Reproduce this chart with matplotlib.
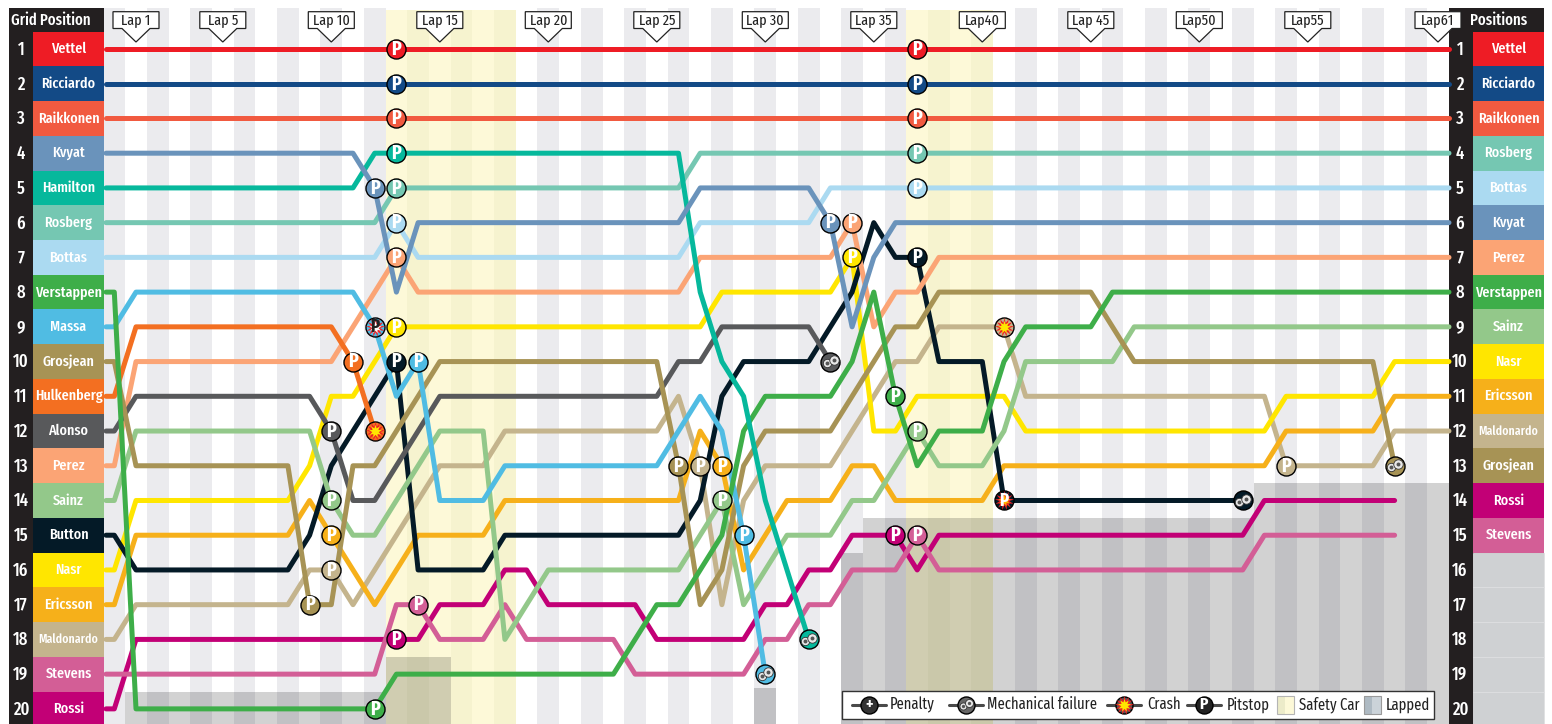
import matplotlib
matplotlib.use("Agg")
import matplotlib.pyplot as plt
from matplotlib.patches import Rectangle, Polygon
import logging
logging.getLogger('matplotlib.font_manager').setLevel(logging.ERROR)

NARROW = ['Fira Sans Extra Condensed', 'Fira Sans Condensed', 'Asap Condensed', 'Barlow Condensed', 'Roboto', 'DejaVu Sans']
plt.rcParams['font.family'] = NARROW

# ---- data: (lap, position) change points per driver ----
vettel = [(0, 1), (61, 1)]
ricciardo = [(0, 2), (61, 2)]
raikkonen = [(0, 3), (61, 3)]
kvyat = [(0, 4), (11, 4), (12, 5), (13, 8), (14, 6), (26, 6), (27, 5), (32, 5), (33, 6), (34, 9), (35, 7), (36, 6), (61, 6)]
hamilton = [(0, 5), (11, 5), (12, 4), (26, 4), (27, 8), (28, 10), (29, 11), (30, 14), (31, 16), (32, 18)]
rosberg = [(0, 6), (12, 6), (13, 5), (26, 5), (27, 4), (61, 4)]
bottas = [(0, 7), (12, 7), (13, 6), (14, 7), (26, 7), (27, 6), (32, 6), (33, 5), (61, 5)]
verstappen = [(0, 8), (1, 20), (12, 20), (13, 19), (23, 19), (24, 18), (25, 17), (26, 17), (27, 16), (28, 15), (29, 12), (30, 11), (33, 11), (34, 10), (35, 8), (36, 11), (37, 13), (38, 12), (40, 12), (41, 10), (42, 9), (45, 9), (46, 8), (61, 8)]
massa = [(0, 9), (1, 8), (11, 8), (12, 9), (13, 11), (14, 10), (15, 14), (17, 14), (18, 13), (25, 13), (26, 12), (27, 11), (28, 12), (29, 15), (30, 19)]
grosjean = [(0, 10), (1, 13), (8, 13), (9, 17), (10, 17), (11, 13), (12, 13), (13, 12), (14, 11), (15, 10), (25, 10), (26, 13), (27, 17), (28, 16), (29, 13), (30, 12), (33, 12), (34, 11), (35, 10), (36, 9), (37, 9), (38, 8), (45, 8), (46, 9), (47, 10), (58, 10), (59, 13)]
hulkenberg = [(0, 11), (1, 9), (10, 9), (11, 10), (12, 12)]
alonso = [(0, 12), (1, 11), (9, 11), (10, 12), (11, 14), (12, 14), (13, 13), (14, 12), (15, 11), (25, 11), (26, 10), (27, 10), (28, 9), (32, 9), (33, 10)]
perez = [(0, 13), (1, 10), (10, 10), (11, 9), (12, 8), (13, 7), (14, 8), (26, 8), (27, 7), (33, 7), (34, 6), (35, 9), (36, 8), (37, 8), (38, 7), (61, 7)]
sainz = [(0, 14), (1, 12), (9, 12), (10, 14), (11, 15), (12, 15), (13, 14), (14, 13), (15, 12), (17, 12), (18, 18), (19, 17), (20, 16), (26, 16), (27, 15), (28, 14), (29, 17), (30, 16), (31, 15), (33, 15), (34, 14), (35, 14), (36, 13), (37, 12), (38, 13), (40, 13), (41, 12), (42, 10), (46, 10), (47, 9), (61, 9)]
button = [(0, 15), (1, 16), (8, 16), (9, 15), (10, 13), (11, 12), (12, 11), (13, 10), (14, 16), (17, 16), (18, 15), (26, 15), (27, 14), (28, 11), (29, 10), (32, 10), (33, 9), (34, 8), (35, 6), (36, 7), (37, 7), (38, 10), (40, 10), (41, 14), (52, 14)]
nasr = [(0, 16), (1, 14), (8, 14), (9, 13), (10, 11), (11, 11), (12, 10), (13, 9), (27, 9), (28, 8), (33, 8), (34, 7), (35, 12), (36, 12), (37, 11), (41, 11), (42, 12), (53, 12), (54, 11), (58, 11), (59, 10), (61, 10)]
ericsson = [(0, 17), (1, 15), (8, 15), (9, 14), (10, 15), (11, 16), (12, 17), (13, 16), (14, 15), (17, 15), (18, 14), (26, 14), (27, 12), (28, 13), (29, 16), (30, 15), (31, 14), (33, 14), (34, 13), (35, 13), (36, 14), (40, 14), (41, 13), (53, 13), (54, 12), (58, 12), (59, 11), (61, 11)]
maldonado = [(0, 18), (1, 17), (8, 17), (9, 16), (10, 16), (11, 17), (12, 16), (13, 15), (14, 14), (15, 13), (17, 13), (18, 12), (25, 12), (26, 11), (27, 13), (28, 17), (29, 14), (30, 13), (33, 13), (34, 12), (35, 11), (36, 10), (37, 10), (38, 9), (41, 9), (42, 11), (53, 11), (54, 13), (58, 13), (59, 12), (61, 12)]
stevens = [(0, 19), (12, 19), (13, 17), (14, 17), (15, 18), (17, 18), (18, 17), (19, 18), (23, 18), (24, 19), (29, 19), (30, 18), (31, 18), (32, 17), (33, 17), (34, 16), (36, 16), (37, 15), (38, 16), (52, 16), (53, 15), (59, 15)]
rossi = [(0, 20), (1, 18), (14, 18), (15, 17), (17, 17), (18, 16), (19, 16), (20, 17), (24, 17), (25, 18), (29, 18), (30, 17), (31, 17), (32, 16), (33, 16), (34, 15), (36, 15), (37, 16), (38, 15), (52, 15), (53, 14), (59, 14)]

grid_names = ['Vettel', 'Ricciardo', 'Raikkonen', 'Kvyat', 'Hamilton', 'Rosberg', 'Bottas', 'Verstappen', 'Massa', 'Grosjean',
              'Hulkenberg', 'Alonso', 'Perez', 'Sainz', 'Button', 'Nasr', 'Ericsson', 'Maldonardo', 'Stevens', 'Rossi']
final_names = ['Vettel', 'Ricciardo', 'Raikkonen', 'Rosberg', 'Bottas', 'Kvyat', 'Perez', 'Verstappen', 'Sainz', 'Nasr',
               'Ericsson', 'Maldonardo', 'Grosjean', 'Rossi', 'Stevens']
flag_laps = [1, 5, 10, 15, 20, 25, 30, 35, 40, 45, 50, 55, 61]
flag_labels = ['Lap 1', 'Lap 5', 'Lap 10', 'Lap 15', 'Lap 20', 'Lap 25', 'Lap 30', 'Lap 35', 'Lap40', 'Lap 45', 'Lap50', 'Lap55', 'Lap61']
safety_car_laps = [13, 14, 15, 16, 17, 18, 37, 38, 39, 40]
# (first lap, last lap, first lapped position boundary in row units)
lapped_from = [(1, 12, 19.5), (13, 15, 18.5), (30, 30, 19.4), (34, 34, 15.5), (35, 52, 14.5), (53, 61, 13.5)]
pit_stops = [('Vettel', 13, 1), ('Ricciardo', 13, 2), ('Raikkonen', 13, 3), ('Hamilton', 13, 4), ('Kvyat', 12, 5), ('Rosberg', 13, 5),
             ('Bottas', 13, 6), ('Perez', 13, 7), ('Nasr', 13, 9), ('Hulkenberg', 11, 10), ('Button', 13, 10), ('Massa', 14, 10),
             ('Alonso', 10, 12), ('Sainz', 10, 14), ('Ericsson', 10, 15), ('Maldonardo', 10, 16), ('Grosjean', 9, 17), ('Stevens', 14, 17),
             ('Rossi', 13, 18), ('Verstappen', 12, 20), ('Grosjean', 26, 13), ('Maldonardo', 27, 13), ('Ericsson', 28, 13), ('Sainz', 28, 14),
             ('Massa', 29, 15), ('Kvyat', 33, 6), ('Perez', 34, 6), ('Nasr', 34, 7), ('Verstappen', 36, 11), ('Rossi', 36, 15), ('Stevens', 37, 15),
             ('Vettel', 37, 1), ('Ricciardo', 37, 2), ('Raikkonen', 37, 3), ('Rosberg', 37, 4), ('Bottas', 37, 5), ('Button', 37, 7),
             ('Sainz', 37, 12), ('Maldonardo', 54, 13)]
crashes = [('Hulkenberg', 12, 12), ('Maldonardo', 41, 9)]
pit_crashes = [('Massa', 12, 9), ('Button', 41, 14)]
failures = [('Alonso', 33, 10), ('Massa', 30, 19), ('Hamilton', 32, 18), ('Button', 52, 14), ('Grosjean', 59, 13)]

colors = dict(Vettel='#ee1c25', Ricciardo='#134a86', Raikkonen='#f15a40', Kvyat='#6a93bb', Hamilton='#06b89c', Rosberg='#75c7b2',
              Bottas='#abdaf1', Verstappen='#3eae49', Massa='#50bce3', Grosjean='#a79355', Hulkenberg='#f36f21', Alonso='#58595b',
              Perez='#fba475', Sainz='#93c88a', Button='#041a27', Nasr='#ffe600', Ericsson='#f6b01a', Maldonardo='#c4b48d',
              Stevens='#d35e96', Rossi='#c20076')
series = dict(Vettel=vettel, Ricciardo=ricciardo, Raikkonen=raikkonen, Kvyat=kvyat, Hamilton=hamilton, Rosberg=rosberg, Bottas=bottas,
              Verstappen=verstappen, Massa=massa, Grosjean=grosjean, Hulkenberg=hulkenberg, Alonso=alonso, Perez=perez, Sainz=sainz,
              Button=button, Nasr=nasr, Ericsson=ericsson, Maldonardo=maldonado, Stevens=stevens, Rossi=rossi)

# ---- layout ----
W, H = 1552, 724
LAP1_X, LAP_W = 136.0, 21.7
ROW1_Y, ROW_H = 49.0, 34.73
DARK = '#231f20'

def px(x):
    return 1 + (x - LAP1_X) / LAP_W

def py(y):
    return 1 + (y - ROW1_Y) / ROW_H

fig = plt.figure(figsize=(W / 100, H / 100), dpi=100, facecolor='white')
ax = fig.add_axes([0, 0, 1, 1])
ax.set_xlim(px(0), px(W))
ax.set_ylim(py(H), py(0))
ax.axis('off')

def box(x0, y0, x1, y1, **kw):
    r = Rectangle((px(x0), py(y0)), px(x1) - px(x0), py(y1) - py(y0), linewidth=kw.pop('linewidth', 0), **kw)
    ax.add_patch(r)
    return r

# stripes
for lap in range(0, 62):
    yellow = lap in safety_car_laps
    even = lap % 2 == 0
    top = py(8)
    if yellow:
        ax.add_patch(Rectangle((lap - .5, py(10)), 1, py(H) - py(10), lw=0, fc='#f6f3cf' if even else '#fdf9d8', zorder=1))
    elif even:
        ax.add_patch(Rectangle((lap - .5, top), 1, py(H) - top, lw=0, fc='#ebebee', zorder=1))

# lapped blocks
for first, last, row in lapped_from:
    ax.add_patch(Rectangle((first - .5, row), last - first + 1, py(H) - row, lw=0, fc='black', alpha=0.175, zorder=1.5))

# panels
box(9, 8, 104, H, fc=DARK, zorder=7)
box(1449, 8, 1544, H, fc=DARK, zorder=2)
ax.barh(range(1, 21), px(104) - px(33), left=px(33), height=1.0,
        color=[colors[n] for n in grid_names], linewidth=0, zorder=7.5)
ax.barh(range(1, 16), px(1544) - px(1473), left=px(1473), height=1.0,
        color=[colors[n] for n in final_names], linewidth=0, zorder=2.5)
ax.barh(range(16, 21), px(1544) - px(1473), left=px(1473), height=1.0,
        color='#cfd1d3', edgecolor='#dfe0e2', linewidth=0.6, zorder=2.5)

# lines
START, END = px(106), px(1449)
order = list(reversed(grid_names))
for i, name in enumerate(order):
    pts = series[name]
    xs = [p[0] for p in pts]
    ys = [p[1] for p in pts]
    xs = [START] + xs
    ys = [ys[0]] + ys
    if xs[-1] == 61:
        xs.append(END)
        ys.append(ys[-1])
    ax.plot(xs, ys, color=colors[name], lw=3.6, solid_joinstyle='round', solid_capstyle='round', zorder=3 + i * 0.01)

CIRC = 188
def disc(x, y, c, z=5, s=CIRC, ec='black'):
    ax.scatter([x], [y], s=s, c=[c], edgecolors=ec, linewidths=1.0, zorder=z)

def pee(x, y, c='white', z=5.3, size=14):
    ax.text(x, y + 0.005, 'P', color=c, fontsize=size, fontweight='bold', ha='center', va='center', zorder=z, family=NARROW)

def burst(x, y, z=5.1, s1=190, s2=90, c1='#ee2024', c2='#ffe600'):
    ax.scatter([x], [y], s=s1, c=[c1], marker=(13, 1, 0), linewidths=0, zorder=z)
    ax.scatter([x], [y], s=s2, c=[c2], marker=(9, 1, 0), linewidths=0, zorder=z + .05)

def engine(x, y, z=5.1, scale=1.0):
    dx, dy = 3.2 * scale / LAP_W, 1.7 * scale / ROW_H
    for sx, sy, s in ((-1, 1, 36), (1, -1, 46)):
        ax.scatter([x + sx * dx], [y + sy * dy], s=s * scale ** 2, c=['#e8e8e8'], edgecolors='#333333', linewidths=0.6, zorder=z)
        ax.scatter([x + sx * dx], [y + sy * dy], s=8 * scale ** 2, c=['#555555'], linewidths=0, zorder=z + .05)

for name, lap, pos in pit_stops:
    disc(lap, pos, colors[name])
    pee(lap, pos)
for name, lap, pos in crashes:
    disc(lap, pos, colors[name])
    burst(lap, pos)
for name, lap, pos in pit_crashes:
    disc(lap, pos, colors[name])
    burst(lap, pos, c2='white' if name == 'Massa' else '#ffb000', s2=80)
    pee(lap, pos, c='#222222' if name == 'Massa' else 'white', size=13)
for name, lap, pos in failures:
    disc(lap, pos, colors[name])
    engine(lap, pos)

# lap flags
for lap, label in zip(flag_laps, flag_labels):
    c = LAP1_X + (lap - 1) * LAP_W
    verts = [(c - 23, 11.7), (c + 23, 11.7), (c + 23, 28.5), (c + 14, 28.5), (c, 42), (c - 14, 28.5), (c - 23, 28.5)]
    ax.add_patch(Polygon([(px(a), py(b)) for a, b in verts], closed=True, fc='white', ec='#222222', lw=0.9, zorder=8))
    ax.text(lap, py(20), label, fontsize=11, color='#222222', ha='center', va='center', zorder=8.5, family=NARROW)

# panel texts
NAME_SIZE, SMALL_SIZE, HEAD_SIZE, WEIGHT = 11, 9.3, 11.6, 500
ax.text(px(51), py(20), 'Grid Position', color='white', fontsize=HEAD_SIZE, fontweight=WEIGHT, ha='center', va='center', zorder=9, family=NARROW)
ax.text(px(1499), py(20), 'Positions', color='white', fontsize=HEAD_SIZE, fontweight=WEIGHT, ha='center', va='center', zorder=9, family=NARROW)
for i, name in enumerate(grid_names):
    pos = i + 1
    ax.text(px(21), pos + 0.02, str(pos), color='white', fontsize=13, fontweight=WEIGHT, ha='center', va='center', zorder=9, family=NARROW)
    ax.text(px(1460), pos + 0.02, str(pos), color='white', fontsize=13, fontweight=WEIGHT, ha='center', va='center', zorder=9, family=NARROW)
    ax.text(px(68.5), pos, name, color='white', fontsize=SMALL_SIZE if name == 'Maldonardo' else NAME_SIZE, fontweight=WEIGHT, ha='center', va='center', zorder=9, family=NARROW)
for i, name in enumerate(final_names):
    ax.text(px(1508.5), i + 1, name, color='white', fontsize=SMALL_SIZE if name == 'Maldonardo' else NAME_SIZE, fontweight=WEIGHT, ha='center', va='center', zorder=9, family=NARROW)

# legend
box(842, 691, 1433.7, 718.7, fc='white', ec='#333333', linewidth=1, zorder=10)
LY = py(704.7)
def icon_line(c):
    ax.plot([px(c - 17), px(c + 17)], [LY, LY], color='#4a4a4a', lw=2.2, solid_capstyle='round', zorder=10.1)
for c in (868.7, 966, 1124, 1203.7):
    icon_line(c)
disc(px(868.7), LY, '#333333', z=10.2, s=150)
ax.text(px(868.7), LY, '+', color='white', fontsize=12, fontweight='bold', ha='center', va='center', zorder=10.4)
disc(px(966), LY, '#666666', z=10.2, s=150)
engine(px(966), LY, z=10.3, scale=0.85)
disc(px(1124), LY, '#555555', z=10.2, s=150)
burst(px(1124), LY, z=10.3)
disc(px(1203.7), LY, '#222222', z=10.2, s=150)
pee(px(1203.7), LY, z=10.4, size=12)
box(1277, 696, 1285.5, 713.7, fc='#ecebc9', ec='none', zorder=10.1)
box(1285.5, 696, 1294, 713.7, fc='#fdf9d8', ec='none', zorder=10.1)
box(1277, 696, 1294, 713.7, fc='none', ec='#b5b5b5', linewidth=0.8, zorder=10.2)
box(1364, 696, 1372.5, 713.7, fc='#aebac3', ec='none', zorder=10.1)
box(1372.5, 696, 1381, 713.7, fc='#cbd3d9', ec='none', zorder=10.1)
box(1364, 696, 1381, 713.7, fc='none', ec='#9a9a9a', linewidth=0.8, zorder=10.2)
for x, label in [(890, 'Penalty'), (987, 'Mechanical failure'), (1147, 'Crash'), (1227, 'Pitstop'), (1299, 'Safety Car'), (1386, 'Lapped')]:
    ax.text(px(x), LY, label, color='#222222', fontsize=11.5, ha='left', va='center', zorder=10.5, family=NARROW)

fig.savefig('out.png', dpi=100, facecolor='white')
